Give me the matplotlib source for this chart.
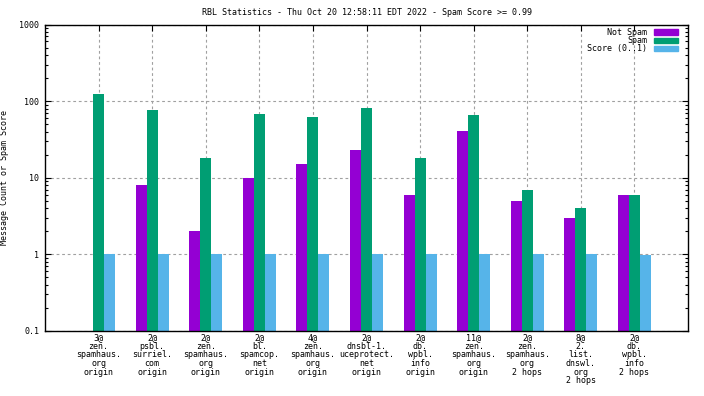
import numpy as np
import matplotlib
matplotlib.use("Agg")
import matplotlib.pyplot as plt
from matplotlib.patches import Patch
from matplotlib.ticker import FixedLocator, LogLocator, NullFormatter

categories = [
    "3@\nzen.\nspamhaus.\norg\norigin",
    "2@\npsbl.\nsurriel.\ncom\norigin",
    "2@\nzen.\nspamhaus.\norg\norigin",
    "2@\nbl.\nspamcop.\nnet\norigin",
    "4@\nzen.\nspamhaus.\norg\norigin",
    "2@\ndnsbl-1.\nuceprotect.\nnet\norigin",
    "2@\ndb.\nwpbl.\ninfo\norigin",
    "11@\nzen.\nspamhaus.\norg\norigin",
    "2@\nzen.\nspamhaus.\norg\n2 hops",
    "8@\n2.\nlist.\ndnswl.\norg\n2 hops",
    "2@\ndb.\nwpbl.\ninfo\n2 hops",
]
not_spam = [0, 8, 2, 10, 15, 23, 6, 41, 5, 3, 6]
spam = [123, 76, 18, 67, 62, 81, 18, 65, 7, 4, 6]
score = [1, 1, 1, 1, 1, 1, 1, 1, 1, 1, 0.97]

yticks = [0.1, 1, 10, 100, 1000]
ytick_labels = ["0.1", "1", "10", "100", "1000"]

FONT = "DejaVu Sans Mono"
FS = 6
plt.rcParams['font.family'] = [FONT]

fig = plt.figure(figsize=(7.04, 3.96), dpi=100)
ax = fig.add_axes([45/704, 1-331/396, (688-45)/704, (331-24.5)/396])

x = np.arange(1, len(categories) + 1)
w = 0.205
ns = np.array(not_spam, dtype=float)
mask = ns > 0
ax.bar(x[mask] - w, ns[mask], width=w, color="#9400D3", bottom=0.01, label="Not Spam", zorder=2)
ax.bar(x, spam, width=w, color="#009E73", bottom=0.01, label="Spam", zorder=2)
ax.bar(x + w, score, width=w, color="#56B4E9", bottom=0.01, label="Score (0..1)", zorder=2)

ax.set_yscale("log")
ax.set_ylim(0.1, 1000)
ax.set_xlim(0, 12)
ax.yaxis.set_major_locator(FixedLocator(yticks))
ax.set_yticklabels(ytick_labels, fontsize=FS)
ax.yaxis.set_minor_locator(LogLocator(base=10, subs=np.arange(2, 10)))
ax.yaxis.set_minor_formatter(NullFormatter())
ax.set_xticks(x)
ax.set_xticklabels(categories, fontsize=FS, linespacing=0.95, va="top", ha="center")

ax.tick_params(axis="both", which="both", direction="in", top=True, right=True, width=0.8)
ax.tick_params(axis="both", which="major", length=4, pad=4)
ax.tick_params(axis="y", which="minor", length=2)
ax.tick_params(axis="x", which="major", length=4, pad=1.5)

ax.grid(True, which="major", color="#a0a0a0", linestyle=(0, (2.5, 2.5)), linewidth=0.8, zorder=0)
for s in ax.spines.values():
    s.set_linewidth(1.0)
    s.set_color("black")

ax.set_title("RBL Statistics - Thu Oct 20 12:58:11 EDT 2022 - Spam Score >= 0.99", fontsize=FS, pad=6.5)
ax.set_ylabel("Message Count or Spam Score", fontsize=FS)
ax.yaxis.set_label_coords(-35.5/643, 0.5)

handles = [Patch(color="#9400D3"), Patch(color="#009E73"), Patch(color="#56B4E9")]
leg = ax.legend(handles, ["Not Spam", "Spam", "Score (0..1)"], loc="upper right",
                bbox_to_anchor=(0.992, 1.005), frameon=False, markerfirst=False,
                fontsize=FS, handlelength=2.9, handleheight=0.6, labelspacing=-0.1,
                handletextpad=0.75, borderaxespad=0.2)

fig.savefig("out.png", dpi=100)
